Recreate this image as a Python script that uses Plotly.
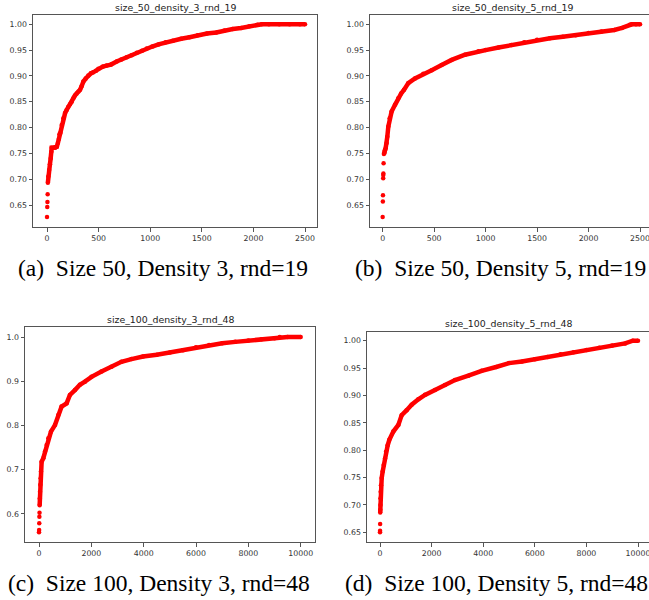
import plotly.graph_objects as go

W, H = 649, 600

# ---------------- data ----------------
titles = ["size_50_density_3_rnd_19", "size_50_density_5_rnd_19",
          "size_100_density_3_rnd_48", "size_100_density_5_rnd_48"]
captions = ["(a)\u2002Size 50, Density 3, rnd=19", "(b)\u2002Size 50, Density 5, rnd=19",
            "(c)\u2002Size 100, Density 3, rnd=48", "(d)\u2002Size 100, Density 5, rnd=48"]

# panel (a)
a_dot_x = [0, 2, 4, 6]
a_dot_y = [0.627, 0.646, 0.656, 0.671]
a_x = [8, 12, 20, 28, 35, 42, 45, 60, 80, 95, 105, 115, 120, 130, 142, 158, 175, 190, 205, 223,
       240, 255, 270, 287, 305, 320, 335, 352, 375, 400, 425, 448, 475, 497, 540, 578, 620, 675,
       720, 772, 820, 870, 920, 966, 1020, 1080, 1150, 1220, 1300, 1380, 1460, 1550, 1640, 1720,
       1800, 1880, 1960, 2040, 2080, 2150, 2250, 2350, 2450, 2500]
a_y = [0.693, 0.705, 0.718, 0.729, 0.740, 0.753, 0.761, 0.761, 0.761, 0.763, 0.770, 0.778, 0.787,
       0.790, 0.805, 0.818, 0.828, 0.834, 0.840, 0.845, 0.850, 0.857, 0.862, 0.866, 0.870, 0.873,
       0.880, 0.889, 0.895, 0.901, 0.905, 0.907, 0.910, 0.914, 0.918, 0.920, 0.922, 0.928, 0.932,
       0.936, 0.940, 0.945, 0.949, 0.953, 0.957, 0.961, 0.965, 0.968, 0.972, 0.975, 0.979, 0.982,
       0.984, 0.988, 0.991, 0.993, 0.996, 0.999, 1.000, 1.000, 1.000, 1.000, 1.000, 1.000]

# panel (b)
b_dot_x = [0, 2, 3, 5, 6, 7, 9]
b_dot_y = [0.627, 0.657, 0.669, 0.702, 0.708, 0.711, 0.731]
b_x = [12, 18, 22, 29, 39, 45, 55, 68, 87, 120, 152, 180, 207, 249, 314, 395, 476, 573, 670, 800,
       930, 1000, 1125, 1250, 1375, 1500, 1625, 1750, 1875, 2000, 2125, 2250, 2325, 2400, 2420,
       2460, 2500]
b_y = [0.749, 0.751, 0.756, 0.760, 0.770, 0.782, 0.802, 0.818, 0.831, 0.844, 0.857, 0.866, 0.873,
       0.886, 0.895, 0.904, 0.911, 0.921, 0.931, 0.941, 0.948, 0.950, 0.955, 0.960, 0.965, 0.970,
       0.973, 0.976, 0.979, 0.983, 0.986, 0.989, 0.993, 0.999, 1.000, 1.000, 1.000]

# panel (c)
c_dot_x = [0, 5, 10, 15, 20]
c_dot_y = [0.559, 0.564, 0.579, 0.594, 0.603]
c_x = [25, 30, 38, 50, 64, 76, 100, 165, 229, 292, 356, 457, 610, 737, 864, 1054, 1181, 1372,
       1562, 1753, 2007, 2388, 2769, 3150, 3531, 3975, 4500, 5000, 5500, 6000, 6500, 7000, 7500,
       8000, 8500, 9000, 9200, 9500, 10000]
c_y = [0.620, 0.635, 0.650, 0.666, 0.681, 0.696, 0.718, 0.726, 0.741, 0.756, 0.771, 0.786, 0.801,
       0.824, 0.843, 0.850, 0.869, 0.880, 0.892, 0.899, 0.910, 0.922, 0.933, 0.944, 0.950, 0.956,
       0.960, 0.965, 0.970, 0.977, 0.982, 0.986, 0.989, 0.992, 0.995, 0.997, 1.000, 1.000, 1.000]

# panel (d)
d_dot_x = [0, 2, 5]
d_dot_y = [0.650, 0.653, 0.665]
d_x = [8, 12, 16, 20, 26, 39, 65, 103, 142, 194, 233, 297, 362, 517, 711, 840, 1034, 1227, 1486,
       1744, 2131, 2519, 2907, 3424, 3940, 4500, 5000, 5500, 6000, 6500, 7000, 7500, 8000, 8500,
       9000, 9500, 9800, 10000]
d_y = [0.686, 0.691, 0.700, 0.712, 0.724, 0.736, 0.749, 0.761, 0.773, 0.785, 0.797, 0.809, 0.819,
       0.834, 0.846, 0.864, 0.873, 0.883, 0.893, 0.901, 0.910, 0.919, 0.928, 0.936, 0.945, 0.952,
       0.959, 0.962, 0.966, 0.970, 0.975, 0.979, 0.983, 0.987, 0.991, 0.995, 1.000, 1.000]

# ---------------- layout geometry (pixels) ----------------
panels = [
    dict(box=(33, 317, 15, 227), xr=(-136, 2616), yr=(0.6074, 1.018), dtick_x=500, dtick_y=0.05,
         fmt=".2f", title_xy=(175, 7.5), cap_xy=(163, 268), mirror_y=True),
    dict(box=(370, 649, 15, 227), xr=(-123, 2587), yr=(0.6074, 1.018), dtick_x=500, dtick_y=0.05,
         fmt=".2f", title_xy=(512, 7.5), cap_xy=(500, 268), mirror_y=False),
    dict(box=(25, 315, 327, 542), xr=(-535, 10546), yr=(0.5367, 1.0226), dtick_x=2000, dtick_y=0.1,
         fmt=".1f", title_xy=(170, 319.5), cap_xy=(159, 583), mirror_y=True),
    dict(box=(367, 649, 331.7, 542.3), xr=(-504, 10426), yr=(0.6317, 1.0164), dtick_x=2000,
         dtick_y=0.05, fmt=".2f", title_xy=(508, 323.5), cap_xy=(496, 583), mirror_y=False),
]

series = [(a_dot_x, a_dot_y, a_x, a_y), (b_dot_x, b_dot_y, b_x, b_y),
          (c_dot_x, c_dot_y, c_x, c_y), (d_dot_x, d_dot_y, d_x, d_y)]

RED = "#ff0000"
SPINE = "#555555"
TICKFONT = dict(family="DejaVu Sans", size=7.8, color="#333333")
SERIF = "Liberation Serif, Times New Roman, Tinos, serif"

fig = go.Figure()
layout = dict(width=W, height=H, margin=dict(l=0, r=0, t=0, b=0),
              paper_bgcolor="white", plot_bgcolor="white", showlegend=False,
              annotations=[])

for i, (p, (dx, dy, cx, cy)) in enumerate(zip(panels, series)):
    n = "" if i == 0 else str(i + 1)
    xa, ya = "x" + n, "y" + n
    fig.add_trace(go.Scatter(x=cx, y=cy, mode="lines+markers", xaxis=xa, yaxis=ya,
                             line=dict(color=RED, width=4.5),
                             marker=dict(color=RED, size=4.5), cliponaxis=False))
    fig.add_trace(go.Scatter(x=dx, y=dy, mode="markers", xaxis=xa, yaxis=ya,
                             marker=dict(color=RED, size=4.5), cliponaxis=False))
    l, r, t, b = p["box"]
    layout["xaxis" + n] = dict(
        domain=[l / W, min(r / W, 1.0)], range=list(p["xr"]), anchor=ya,
        showgrid=False, zeroline=False, showline=True, linecolor=SPINE, linewidth=1,
        mirror=True, ticks="outside", ticklen=3.5, tickwidth=1, tickcolor=SPINE,
        tick0=0, dtick=p["dtick_x"], tickformat="d", tickfont=TICKFONT,
        ticklabeloverflow="allow")
    layout["yaxis" + n] = dict(
        domain=[1 - b / H, 1 - t / H], range=list(p["yr"]), anchor=xa,
        showgrid=False, zeroline=False, showline=True, linecolor=SPINE, linewidth=1,
        mirror=p["mirror_y"], ticks="outside", ticklen=3.5, tickwidth=1, tickcolor=SPINE,
        tick0=0, dtick=p["dtick_y"], tickformat=p["fmt"], tickfont=TICKFONT,
        ticklabeloverflow="allow")
    tx, ty = p["title_xy"]
    layout["annotations"].append(dict(
        text=titles[i], x=tx / W, y=1 - ty / H, xref="paper", yref="paper",
        xanchor="center", yanchor="middle", showarrow=False,
        font=dict(family="DejaVu Sans", size=9.4, color="#222222")))
    cx_, cy_ = p["cap_xy"]
    layout["annotations"].append(dict(
        text=captions[i], x=cx_ / W, y=1 - cy_ / H, xref="paper", yref="paper",
        xanchor="center", yanchor="middle", showarrow=False,
        font=dict(family=SERIF, size=23.5, color="black")))

fig.update_layout(**layout)
fig.write_html("out.html")
